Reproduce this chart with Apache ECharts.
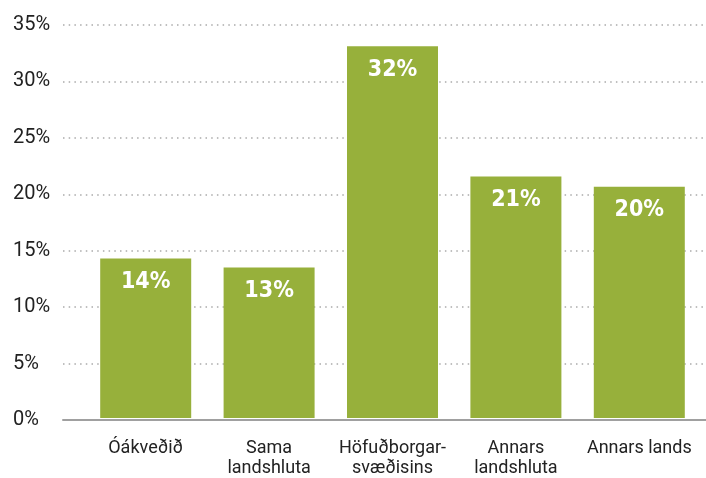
<!DOCTYPE html>
<html><head><meta charset="utf-8">
<script src="https://cdn.jsdelivr.net/npm/echarts@6/dist/echarts.min.js"></script>
<style>html,body{margin:0;padding:0;background:#fff}#c{width:706px;height:478px}</style>
</head><body><div id="c"></div>
<script>
const categories = ['Óákveðið', 'Sama\nlandshluta', 'Höfuðborgar-\nsvæðisins', 'Annars\nlandshluta', 'Annars lands'];
const values = [14.2, 13.4, 33.1, 21.5, 20.6];
const valueLabels = ['14%', '13%', '32%', '21%', '20%'];
const yTicks = [0, 5, 10, 15, 20, 25, 30, 35];

const chart = echarts.init(document.getElementById('c'));
const gTop = 25, gBottom = 58;
chart.setOption({
  animation: false,
  grid: [
    {left: 63, right: 0, top: gTop, bottom: gBottom},
    {left: 84, right: 5, top: gTop, bottom: gBottom}
  ],
  xAxis: [
    {type: 'category', gridIndex: 0, data: [''], axisLine: {show: true, lineStyle: {color: '#a0a0a0', width: 2}}, axisTick: {show: false}, axisLabel: {show: false}},
    {type: 'category', gridIndex: 1, data: categories, axisLine: {show: false}, axisTick: {show: false},
     axisLabel: {color: '#222', fontFamily: 'Roboto', fontSize: 18, lineHeight: 20, margin: 20, interval: 0}}
  ],
  yAxis: [
    {type: 'value', gridIndex: 0, min: yTicks[0], max: yTicks[yTicks.length - 1], interval: 5,
     axisLine: {show: false}, axisTick: {show: false},
     axisLabel: {align: 'left', margin: 50, color: '#222', fontFamily: 'Roboto', fontSize: 20, formatter: v => v + '%'},
     splitLine: {show: true, lineStyle: {color: '#aaaaaa', width: 1.5, type: [1.5, 4.2]}}},
    {type: 'value', gridIndex: 1, min: yTicks[0], max: yTicks[yTicks.length - 1], interval: 5, show: false, splitLine: {show: false}}
  ],
  series: [{
    type: 'bar', xAxisIndex: 1, yAxisIndex: 1, data: values, barWidth: 91,
    itemStyle: {color: '#97b03b'},
    label: {show: true, position: 'insideTop', distance: 12, color: '#fff', fontFamily: 'DejaVu Sans Condensed', fontWeight: 'bold', fontSize: 23,
      formatter: p => valueLabels[p.dataIndex]}
  }]
});
</script></body></html>
